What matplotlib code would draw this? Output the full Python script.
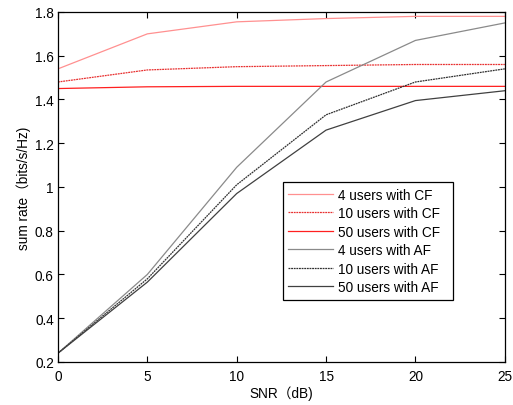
import matplotlib
matplotlib.use("Agg")
import matplotlib.pyplot as plt

snr = [0, 5, 10, 15, 20, 25]
cf_4 = [1.54, 1.70, 1.755, 1.77, 1.78, 1.78]
cf_10 = [1.48, 1.535, 1.55, 1.555, 1.56, 1.56]
cf_50 = [1.45, 1.458, 1.46, 1.46, 1.46, 1.46]
af_4 = [0.24, 0.60, 1.09, 1.48, 1.67, 1.75]
af_10 = [0.24, 0.58, 1.01, 1.33, 1.48, 1.54]
af_50 = [0.24, 0.565, 0.97, 1.26, 1.395, 1.44]
labels = ["4 users with CF", "10 users with CF", "50 users with CF",
          "4 users with AF", "10 users with AF", "50 users with AF"]
xticks = [0, 5, 10, 15, 20, 25]
yticks = [0.2, 0.4, 0.6, 0.8, 1.0, 1.2, 1.4, 1.6, 1.8]

plt.rcParams['font.family'] = ['Liberation Sans', 'Noto Sans CJK SC', 'DejaVu Sans']
fs = 9.8
plt.rcParams['font.size'] = fs

fig = plt.figure(figsize=(5.13, 4.06), dpi=100)
ax = fig.add_axes([0.113, 0.106, 0.871, 0.862])

series = [cf_4, cf_10, cf_50, af_4, af_10, af_50]
styles = [
    dict(color="#ff9090", ls="-"),
    dict(color="#e83030", ls=(0, (1.5, 0.6))),
    dict(color="#ff2020", ls="-"),
    dict(color="#8a8a8a", ls="-"),
    dict(color="#303030", ls=(0, (1.5, 0.6))),
    dict(color="#404040", ls="-"),
]
for s, st, lab in zip(series, styles, labels):
    ax.plot(snr, s, lw=0.9, label=lab, **st)

ax.set_xlim(0, 25)
ax.set_ylim(0.2, 1.8)
ax.set_xticks(xticks)
ax.set_yticks(yticks)
ax.set_yticklabels(["0.2", "0.4", "0.6", "0.8", "1", "1.2", "1.4", "1.6", "1.8"])
ax.tick_params(direction="in", top=True, right=True, length=4, width=0.8, labelsize=fs)
ax.tick_params(axis="x", pad=5)
ax.tick_params(axis="y", pad=3)
for sp in ax.spines.values():
    sp.set_linewidth(0.9)

ax.set_xlabel("SNR（dB)", fontsize=fs, labelpad=2)
ax.set_ylabel("sum rate（bits/s/Hz)", fontsize=fs, labelpad=3)

leg = ax.legend(loc="lower left", bbox_to_anchor=(0.5035, 0.178, 0.38, 0.336),
                mode="expand", fancybox=False, edgecolor="black", framealpha=1,
                borderaxespad=0, handlelength=3.3, handletextpad=0.35,
                labelspacing=0.33, fontsize=fs, borderpad=0.4)
leg._legend_box.align = "left"
leg.get_frame().set_linewidth(0.9)

fig.savefig("out.png", dpi=100)
